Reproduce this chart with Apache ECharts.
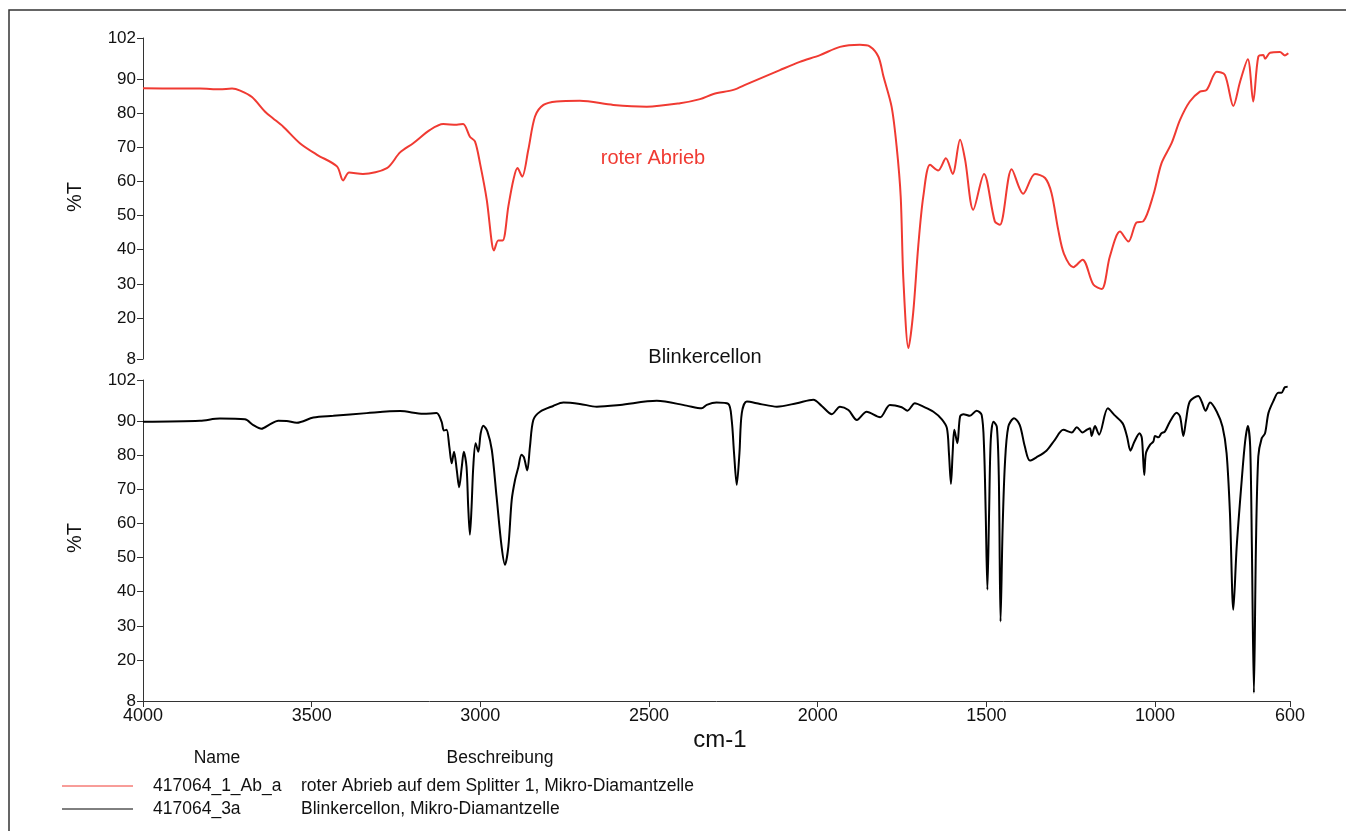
<!DOCTYPE html>
<html>
<head>
<meta charset="utf-8">
<script src="https://cdn.jsdelivr.net/npm/echarts@6/dist/echarts.min.js"></script>
<style>
html,body{margin:0;padding:0;background:#fff;}
#chart{width:1346px;height:831px;}
</style>
</head>
<body>
<div id="chart"></div>
<script>
// Wavenumber (cm-1) and %T readings
const redWavenumber = [4000, 3900, 3831, 3772, 3736, 3712, 3677, 3638, 3615, 3585, 3535, 3484, 3425, 3407, 3389, 3348, 3277, 3238, 3199, 3149, 3110, 3070, 3051, 3031, 3016, 3001, 2981, 2966, 2960, 2947, 2934, 2917, 2902, 2890, 2876, 2858, 2838, 2813, 2774, 2705, 2606, 2507, 2408, 2349, 2309, 2250, 2210, 2112, 2053, 1993, 1934, 1875, 1845, 1820, 1805, 1781, 1766, 1754, 1746, 1731, 1717, 1702, 1687, 1667, 1643, 1620, 1600, 1578, 1563, 1539, 1507, 1475, 1460, 1425, 1391, 1356, 1326, 1307, 1287, 1270, 1242, 1215, 1183, 1158, 1134, 1104, 1079, 1055, 1035, 1005, 981, 951, 926, 897, 867, 847, 817, 793, 768, 748, 725, 709, 694, 679, 674, 659, 630, 615, 605];
const redTransmittance = [87.3, 87.2, 87.2, 87.0, 87.2, 86.6, 84.7, 80.4, 78.5, 76.1, 71.2, 67.8, 64.4, 60.3, 62.6, 62.2, 63.9, 68.5, 71.2, 75.1, 76.8, 76.6, 76.8, 73.1, 71.7, 65.3, 54.6, 42.0, 39.8, 42.7, 42.7, 52.7, 60.5, 63.9, 61.4, 69.2, 79.0, 82.4, 83.4, 83.6, 82.4, 81.9, 82.9, 84.1, 85.6, 86.8, 88.5, 92.6, 95.0, 97.0, 99.4, 100.0, 99.5, 96.5, 90.7, 81.9, 70.2, 55.6, 31.2, 11.2, 21.5, 41.0, 55.6, 64.9, 63.2, 66.8, 62.2, 72.2, 66.3, 51.7, 62.2, 48.3, 47.3, 63.6, 56.4, 62.2, 61.0, 56.6, 45.8, 38.8, 34.9, 37.1, 29.8, 28.5, 38.0, 45.3, 42.4, 48.0, 48.3, 56.1, 65.3, 71.2, 78.0, 83.4, 86.3, 86.8, 92.1, 91.2, 82.1, 89.2, 95.8, 83.4, 96.5, 97.0, 95.9, 97.7, 97.9, 96.9, 97.5];

const blackWavenumber = [4000, 3831, 3772, 3698, 3673, 3649, 3624, 3599, 3574, 3544, 3495, 3436, 3337, 3238, 3169, 3130, 3115, 3108, 3100, 3092, 3085, 3078, 3070, 3063, 3055, 3049, 3041, 3036, 3031, 3026, 3021, 3014, 3006, 2999, 2991, 2979, 2966, 2952, 2937, 2927, 2917, 2907, 2897, 2888, 2878, 2871, 2861, 2853, 2843, 2823, 2784, 2754, 2705, 2655, 2586, 2477, 2389, 2344, 2329, 2300, 2265, 2255, 2248, 2240, 2232, 2225, 2210, 2171, 2121, 2062, 2013, 1988, 1958, 1934, 1909, 1884, 1855, 1815, 1786, 1751, 1734, 1712, 1687, 1657, 1632, 1617, 1611, 1605, 1600, 1595, 1586, 1578, 1568, 1549, 1529, 1514, 1507, 1502, 1497, 1492, 1487, 1479, 1469, 1463, 1458, 1452, 1445, 1435, 1418, 1401, 1386, 1371, 1351, 1322, 1297, 1272, 1247, 1232, 1215, 1203, 1193, 1188, 1178, 1166, 1140, 1121, 1096, 1083, 1073, 1061, 1046, 1039, 1032, 1027, 1015, 1005, 1000, 990, 981, 971, 956, 936, 926, 916, 908, 897, 872, 862, 850, 837, 817, 800, 788, 778, 768, 758, 743, 733, 725, 718, 713, 707, 701, 694, 684, 674, 664, 649, 635, 625, 615, 607];
const blackTransmittance = [89.8, 90.1, 90.7, 90.5, 88.8, 87.7, 89.0, 90.1, 90.0, 89.5, 91.0, 91.5, 92.3, 92.9, 92.1, 92.3, 89.8, 87.2, 87.4, 82.5, 77.6, 81.0, 75.7, 70.6, 76.6, 81.0, 76.6, 64.9, 56.7, 64.9, 76.6, 83.5, 81.0, 86.4, 88.6, 86.9, 81.5, 67.9, 53.2, 47.9, 53.2, 66.9, 72.8, 76.2, 80.1, 79.4, 75.5, 82.5, 90.3, 92.7, 94.4, 95.4, 95.0, 94.2, 94.7, 95.9, 94.5, 93.7, 94.7, 95.4, 95.0, 90.3, 80.6, 71.3, 80.6, 92.3, 95.7, 95.0, 94.2, 95.2, 96.2, 94.4, 92.0, 94.2, 93.2, 90.3, 92.7, 91.1, 94.7, 94.0, 93.0, 95.2, 94.2, 92.7, 90.5, 87.9, 80.6, 71.6, 80.6, 87.4, 83.5, 91.3, 92.0, 91.5, 93.0, 91.8, 82.5, 63.0, 40.6, 63.0, 84.5, 89.8, 88.3, 72.8, 31.3, 58.1, 77.6, 88.3, 90.8, 88.8, 82.5, 78.4, 79.4, 81.3, 84.5, 87.4, 86.6, 88.2, 86.6, 87.4, 87.9, 85.6, 88.5, 86.0, 93.7, 91.8, 89.3, 85.4, 81.3, 84.0, 86.4, 84.9, 74.2, 80.6, 83.0, 84.0, 85.6, 85.2, 86.4, 86.9, 89.8, 92.4, 91.3, 85.6, 90.3, 95.7, 97.3, 95.7, 93.0, 95.4, 92.7, 88.3, 80.6, 63.0, 34.7, 53.2, 72.8, 84.0, 88.5, 82.5, 53.2, 10.4, 53.2, 79.6, 84.9, 86.4, 92.3, 95.9, 98.3, 98.3, 99.9, 100.0];

const xTickValues = [4000, 3500, 3000, 2500, 2000, 1500, 1000, 600];
const yTickValues = [8, 20, 30, 40, 50, 60, 70, 80, 90, 102];

const seriesNames = ['417064_1_Ab_a', '417064_3a'];
const seriesDescriptions = ['roter Abrieb auf dem Splitter 1, Mikro-Diamantzelle', 'Blinkercellon, Mikro-Diamantzelle'];
const panelTitles = ['roter Abrieb', 'Blinkercellon'];

const RED = '#f03a32';
const FONT = "'Liberation Sans', Arial, sans-serif";

function pairs(xs, ys) { return xs.map((x, i) => [x, ys[i]]); }

const chart = echarts.init(document.getElementById('chart'), null, {renderer: 'canvas'});

function yAxisDef(gridIndex) {
  return {
    type: 'value', gridIndex: gridIndex, min: 8, max: 102,
    axisLine: {show: true, lineStyle: {color: '#333', width: 1}},
    axisTick: {show: true, length: 6, customValues: yTickValues, lineStyle: {color: '#333'}},
    axisLabel: {customValues: yTickValues, color: '#111', fontSize: 17, fontFamily: FONT, margin: 7,
                formatter: v => String(v)},
    splitLine: {show: false}
  };
}

const option = {
  animation: false,
  backgroundColor: '#fff',
  grid: [
    {left: 143, top: 38, width: 1147, height: 321},
    {left: 143, top: 380, width: 1147, height: 321}
  ],
  xAxis: [
    {type: 'value', gridIndex: 0, min: 600, max: 4000, inverse: true, show: false},
    {type: 'value', gridIndex: 1, min: 600, max: 4000, inverse: true,
     axisLine: {show: true, onZero: false, lineStyle: {color: '#333', width: 1}},
     axisTick: {show: true, length: 6, customValues: xTickValues, lineStyle: {color: '#333'}},
     axisLabel: {customValues: xTickValues, color: '#111', fontSize: 18, fontFamily: FONT, margin: 6,
                 formatter: v => String(v)},
     splitLine: {show: false}}
  ],
  yAxis: [yAxisDef(0), yAxisDef(1)],
  series: [
    {name: seriesNames[0], type: 'line', xAxisIndex: 0, yAxisIndex: 0,
     data: pairs(redWavenumber, redTransmittance), showSymbol: false, smooth: 0.3,
     lineStyle: {color: RED, width: 2}},
    {name: seriesNames[1], type: 'line', xAxisIndex: 1, yAxisIndex: 1,
     data: pairs(blackWavenumber, blackTransmittance), showSymbol: false, smooth: 0.3,
     lineStyle: {color: '#000', width: 2}}
  ],
  graphic: [
    {type: 'rect', shape: {x: 9, y: 10, width: 1400, height: 900}, style: {fill: 'none', stroke: '#333', lineWidth: 1.5}, silent: true},
    {type: 'text', x: 75, y: 197, rotation: Math.PI / 2, style: {text: '%T', font: '20px ' + FONT, fill: '#111', align: 'center', verticalAlign: 'middle'}},
    {type: 'text', x: 75, y: 538, rotation: Math.PI / 2, style: {text: '%T', font: '20px ' + FONT, fill: '#111', align: 'center', verticalAlign: 'middle'}},
    {type: 'text', x: 720, y: 740, style: {text: 'cm-1', font: '24px ' + FONT, fill: '#111', align: 'center', verticalAlign: 'middle'}},
    {type: 'text', x: 653, y: 158, style: {text: panelTitles[0], font: '20px ' + FONT, fill: RED, align: 'center', verticalAlign: 'middle'}},
    {type: 'text', x: 705, y: 357, style: {text: panelTitles[1], font: '20px ' + FONT, fill: '#111', align: 'center', verticalAlign: 'middle'}},
    {type: 'text', x: 217, y: 758, style: {text: 'Name', font: '17.5px ' + FONT, fill: '#111', align: 'center', verticalAlign: 'middle'}},
    {type: 'text', x: 500, y: 758, style: {text: 'Beschreibung', font: '17.5px ' + FONT, fill: '#111', align: 'center', verticalAlign: 'middle'}},
    {type: 'line', shape: {x1: 62, y1: 786, x2: 133, y2: 786}, style: {stroke: RED, lineWidth: 1}},
    {type: 'text', x: 153, y: 786, style: {text: seriesNames[0], font: '17.5px ' + FONT, fill: '#111', verticalAlign: 'middle'}},
    {type: 'text', x: 301, y: 786, style: {text: seriesDescriptions[0], font: '17.5px ' + FONT, fill: '#111', verticalAlign: 'middle'}},
    {type: 'line', shape: {x1: 62, y1: 809, x2: 133, y2: 809}, style: {stroke: '#000', lineWidth: 1}},
    {type: 'text', x: 153, y: 809, style: {text: seriesNames[1], font: '17.5px ' + FONT, fill: '#111', verticalAlign: 'middle'}},
    {type: 'text', x: 301, y: 809, style: {text: seriesDescriptions[1], font: '17.5px ' + FONT, fill: '#111', verticalAlign: 'middle'}}
  ]
};
chart.setOption(option);
</script>
</body>
</html>
